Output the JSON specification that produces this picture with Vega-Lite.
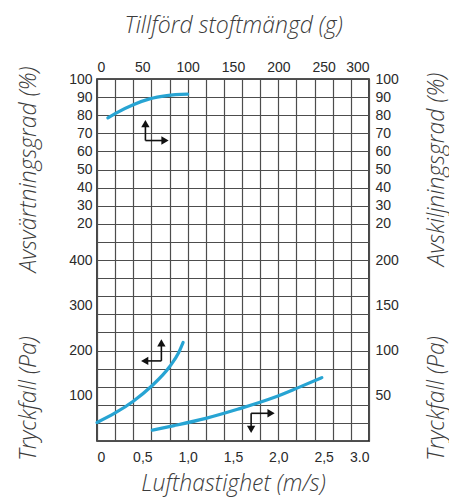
{
  "$schema": "https://vega.github.io/schema/vega-lite/v6.json",
  "width": 272,
  "height": 362,
  "autosize": "none",
  "padding": {"left": 97, "top": 79, "right": 80, "bottom": 63},
  "background": "white",
  "config": {
    "view": {"stroke": "#1a1a1a", "strokeWidth": 1.6},
    "axis": {
      "labelFont": "Liberation Sans", "labelFontSize": 14, "labelColor": "#2a2a2a",
      "titleFont": "Open Sans", "titleFontSize": 23, "titleFontStyle": "italic", "titleFontWeight": 300, "titleColor": "#3c3c3c",
      "titleAlign": "center", "titleBaseline": "middle",
      "domain": false, "ticks": false, "grid": false,
      "gridColor": "#4d4d4d", "gridWidth": 1.2, "gridOpacity": 1
    }
  },
  "datasets": {
    "avskiljning": [
      {"g": 12, "pct": 78.5}, {"g": 21, "pct": 81.2}, {"g": 40, "pct": 85.8},
      {"g": 58, "pct": 89.0}, {"g": 77, "pct": 90.8}, {"g": 100, "pct": 91.6}
    ],
    "arrow1": [
      {"g": 53.4, "pct": 66, "g2": 53.4, "pct2": 75.3},
      {"g": 53.4, "pct": 66, "g2": 75, "pct2": 66}
    ],
    "head1": [
      {"g": 53.4, "pct": 75.3, "dir": "up"},
      {"g": 75, "pct": 66, "dir": "right"}
    ],
    "tryckfall_g": [
      {"g": 0, "paL": 41}, {"g": 20, "paL": 62}, {"g": 40, "paL": 88},
      {"g": 60, "paL": 121}, {"g": 80, "paL": 164}, {"g": 90, "paL": 195}, {"g": 95, "paL": 218}
    ],
    "arrow2": [
      {"g": 71, "paL": 177, "g2": 71, "paL2": 217},
      {"g": 71, "paL": 177, "g2": 52.6, "paL2": 177}
    ],
    "head2": [
      {"g": 71, "paL": 217, "dir": "up"},
      {"g": 52.6, "paL": 177, "dir": "left"}
    ],
    "tryckfall_v": [
      {"ms": 0.61, "paR": 12}, {"ms": 0.85, "paR": 17}, {"ms": 1.2, "paR": 25},
      {"ms": 1.55, "paR": 35}, {"ms": 1.95, "paR": 48}, {"ms": 2.22, "paR": 59}, {"ms": 2.48, "paR": 70}
    ],
    "arrow3": [
      {"ms": 1.7, "paR": 30.6, "ms2": 1.7, "paR2": 12.9},
      {"ms": 1.7, "paR": 30.6, "ms2": 1.92, "paR2": 30.6}
    ],
    "head3": [
      {"ms": 1.7, "paR": 12.9, "dir": "down"},
      {"ms": 1.92, "paR": 30.6, "dir": "right"}
    ]
  },
  "layer": [
    {
      "encoding": {
        "x": {"field": "g", "type": "quantitative", "scale": {"domain": [0, 300], "nice": false, "zero": false},
          "axis": {"orient": "top", "values": [0, 50, 100, 150, 200, 250, 300], "labelPadding": 5,
            "title": "Tillförd stoftmängd (g)", "titleX": 136, "titleY": -54}},
        "y": {"field": "pct", "type": "quantitative", "scale": {"domain": [-100, 100], "nice": false, "zero": false},
          "axis": {"orient": "right", "values": [100, 90, 80, 70, 60, 50, 40, 30, 20, 0, -25, -50, -75],
            "labelExpr": "datum.value >= 20 ? datum.value : (datum.value + 100) * 2", "labelPadding": 6,
            "title": "Avskiljningsgrad (%)", "titleX": 67, "titleY": 90, "titleAngle": -90}}
      },
      "layer": [
        {"data": {"name": "avskiljning"}, "mark": {"type": "line", "color": "#27a4d3", "strokeWidth": 3.2, "interpolate": "monotone", "strokeCap": "round"}},
        {"data": {"name": "arrow1"}, "mark": {"type": "rule", "color": "#111111", "strokeWidth": 1.6},
          "encoding": {"x2": {"field": "g2"}, "y2": {"field": "pct2"}}},
        {"data": {"name": "head1"}, "mark": {"type": "point", "filled": true, "color": "#111111", "size": 70, "opacity": 1},
          "encoding": {"shape": {"field": "dir", "type": "nominal", "scale": {"domain": ["up", "down", "left", "right"], "range": ["triangle-up", "triangle-down", "triangle-left", "triangle-right"]}, "legend": null}}}
      ]
    },
    {
      "encoding": {
        "x": {"field": "g", "type": "quantitative", "scale": {"domain": [0, 300], "nice": false, "zero": false},
          "axis": {"orient": "bottom", "grid": true, "labels": false, "title": null,
            "values": [0, 20, 40, 60, 80, 100, 120, 140, 160, 180, 200, 220, 240, 260, 280, 300]}},
        "y": {"field": "paL", "type": "quantitative", "scale": {"domain": [0, 800], "nice": false, "zero": false},
          "axis": {"orient": "left", "values": [800, 760, 720, 680, 640, 600, 560, 520, 480, 400, 300, 200, 100],
            "labelExpr": "datum.value >= 480 ? datum.value / 4 - 100 : datum.value", "labelPadding": 5,
            "title": "Avsvärtningsgrad (%)", "titleX": -69, "titleY": 90, "titleAngle": -90}}
      },
      "layer": [
        {"data": {"name": "tryckfall_g"}, "mark": {"type": "line", "color": "#27a4d3", "strokeWidth": 3.2, "interpolate": "monotone", "strokeCap": "round"}},
        {"data": {"name": "arrow2"}, "mark": {"type": "rule", "color": "#111111", "strokeWidth": 1.6},
          "encoding": {"x2": {"field": "g2"}, "y2": {"field": "paL2"}}},
        {"data": {"name": "head2"}, "mark": {"type": "point", "filled": true, "color": "#111111", "size": 70, "opacity": 1},
          "encoding": {"shape": {"field": "dir", "type": "nominal", "scale": {"domain": ["up", "down", "left", "right"], "range": ["triangle-up", "triangle-down", "triangle-left", "triangle-right"]}, "legend": null}}}
      ]
    },
    {
      "encoding": {
        "x": {"field": "ms", "type": "quantitative", "scale": {"domain": [0, 3], "nice": false, "zero": false},
          "axis": {"orient": "bottom", "values": [0, 0.5, 1, 1.5, 2, 2.5, 3], "labelPadding": 9,
            "labelExpr": "datum.value == 0 ? '0' : datum.value == 3 ? '3.0' : replace(format(datum.value, '.1f'), '.', ',')",
            "title": "Lufthastighet (m/s)", "titleX": 136, "titleY": 42}},
        "y": {"field": "paR", "type": "quantitative", "scale": {"domain": [0, 400], "nice": false, "zero": false},
          "axis": {"orient": "right", "labels": false, "title": "Tryckfall (Pa)", "titleX": 67, "titleY": 319, "titleAngle": -90}}
      },
      "layer": [
        {"data": {"name": "tryckfall_v"}, "mark": {"type": "line", "color": "#27a4d3", "strokeWidth": 3.2, "interpolate": "monotone", "strokeCap": "round"}},
        {"data": {"name": "arrow3"}, "mark": {"type": "rule", "color": "#111111", "strokeWidth": 1.6},
          "encoding": {"x2": {"field": "ms2"}, "y2": {"field": "paR2"}}},
        {"data": {"name": "head3"}, "mark": {"type": "point", "filled": true, "color": "#111111", "size": 70, "opacity": 1},
          "encoding": {"shape": {"field": "dir", "type": "nominal", "scale": {"domain": ["up", "down", "left", "right"], "range": ["triangle-up", "triangle-down", "triangle-left", "triangle-right"]}, "legend": null}}}
      ]
    },
    {
      "data": {"name": "tryckfall_g"},
      "mark": {"type": "rule", "opacity": 0},
      "encoding": {
        "y": {"field": "paL", "type": "quantitative", "scale": {"domain": [0, 800], "nice": false, "zero": false},
          "axis": {"orient": "left", "grid": true, "labels": false,
            "values": [0, 40, 80, 120, 160, 200, 240, 280, 320, 360, 400, 440, 480, 520, 560, 600, 640, 680, 720, 760, 800],
            "title": "Tryckfall (Pa)", "titleX": -69, "titleY": 319, "titleAngle": -90}}
      }
    }
  ],
  "resolve": {
    "scale": {"x": "independent", "y": "independent"},
    "axis": {"x": "independent", "y": "independent"}
  }
}
